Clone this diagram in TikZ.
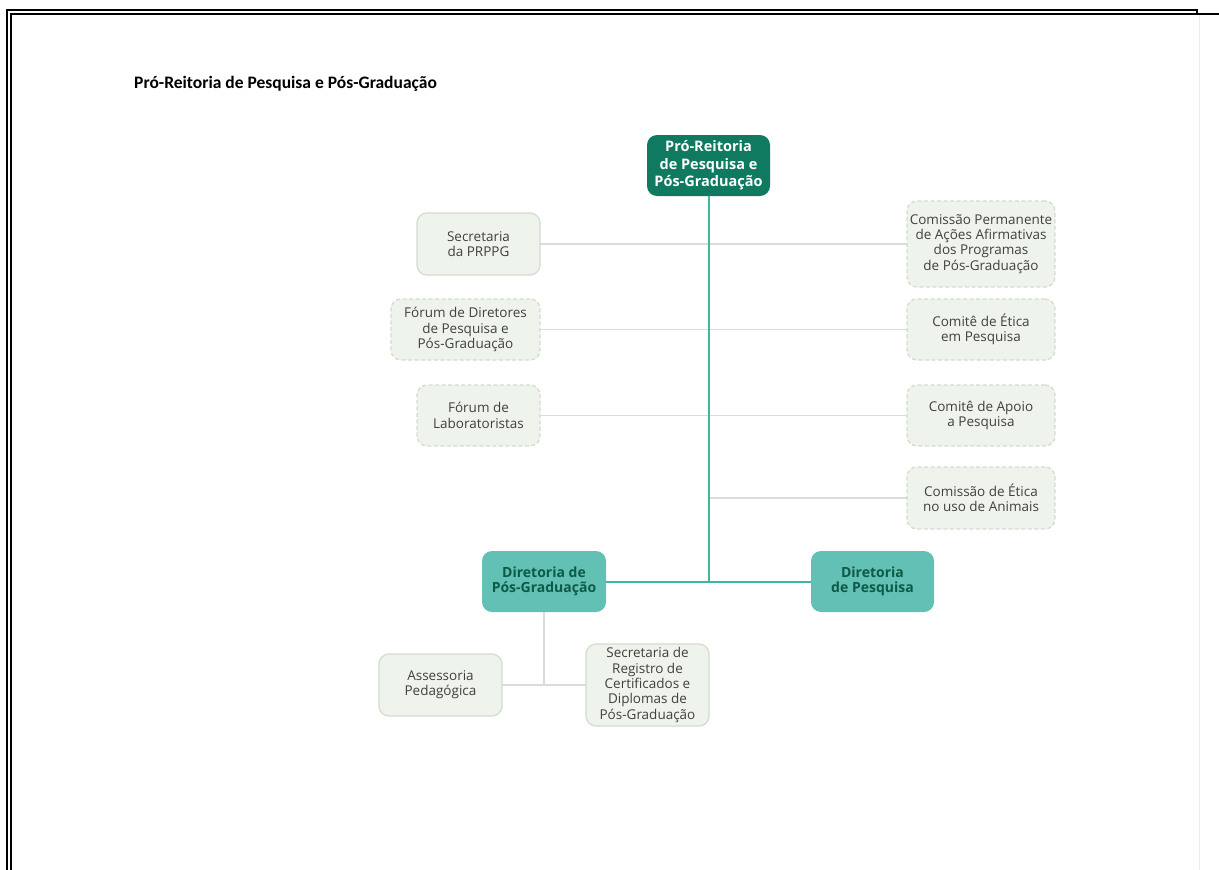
\documentclass[tikz,border=0pt]{standalone}
\usepackage{fontspec}
\setmainfont{Open Sans}
\newfontfamily\titlefont{Carlito}
\definecolor{darkgreen}{HTML}{0F7A60}
\definecolor{tealfill}{HTML}{62C0B5}
\definecolor{tealtext}{HTML}{0D5A47}
\definecolor{tealline}{HTML}{3DB89C}
\definecolor{lightfill}{HTML}{EEF3EB}
\definecolor{lightborder}{HTML}{D3DDD0}
\definecolor{greyline}{HTML}{D9DDD9}
\definecolor{boxtext}{HTML}{404040}
\tikzset{
  base/.style={rounded corners=10pt, align=center, inner sep=0pt, outer sep=0pt,
    font=\fontsize{13.5}{15.3}\selectfont, text=boxtext},
  solidbox/.style={base, draw=lightborder, line width=1.3pt, fill=lightfill},
  dashbox/.style={base, draw=lightborder, line width=1.3pt, dash pattern=on 4pt off 2.5pt, fill=lightfill},
  topbox/.style={base, fill=darkgreen, text=white, font=\fontsize{14.5}{17.5}\selectfont\bfseries},
  dirbox/.style={base, fill=tealfill, text=tealtext, font=\fontsize{14}{15.5}\selectfont\bfseries},
  greyconn/.style={draw=greyline, line width=1.8pt},
  tealconn/.style={draw=tealline, line width=2pt},
  frameline/.style={draw=black, line width=1.1pt}
}
\begin{document}
\begin{tikzpicture}[x=1pt,y=-1pt]
\useasboundingbox[fill=white] (0,0) rectangle (1219,870);
% page frame
\draw[frameline] (7,870) -- (7,10) -- (1197,10) -- (1197,14);
\draw[frameline] (11,870) -- (11,14) -- (1219,14);
\draw[draw=black!8, line width=0.8pt] (1199.5,15) -- (1199.5,870);
% title
\node[anchor=base west, inner sep=0pt, font=\titlefont\fontsize{17.5}{20}\selectfont\bfseries] (title) at (134,88.5) {Pró-Reitoria de Pesquisa e Pós-Graduação};
% boxes
\node[topbox, minimum width=123pt, minimum height=61pt] (top) at (708.5,165.5) {Pró-Reitoria\\de Pesquisa e\\Pós-Graduação};
\node[solidbox, minimum width=123pt, minimum height=62pt] (sec) at (478.5,244) {Secretaria\\da PRPPG};
\node[dashbox, minimum width=148pt, minimum height=86pt] (cpaa) at (981,244) {Comissão Permanente\\de Ações Afirmativas\\dos Programas\\de Pós-Graduação};
\node[dashbox, minimum width=149pt, minimum height=61pt] (fdp) at (465.5,329.5) {Fórum de Diretores\\de Pesquisa e\\Pós-Graduação};
\node[dashbox, minimum width=148pt, minimum height=61pt] (cep) at (981,329.5) {Comitê de Ética\\em Pesquisa};
\node[dashbox, minimum width=123pt, minimum height=61pt] (flab) at (478.5,415.5) {Fórum de\\Laboratoristas};
\node[dashbox, minimum width=148pt, minimum height=61pt] (cap) at (981,415.5) {Comitê de Apoio\\a Pesquisa};
\node[dashbox, minimum width=148pt, minimum height=62pt] (ceua) at (981,498) {Comissão de Ética\\no uso de Animais};
\node[dirbox, minimum width=124pt, minimum height=61pt] (dpg) at (544,581.5) {Diretoria de\\Pós-Graduação};
\node[dirbox, minimum width=123pt, minimum height=61pt] (dp) at (872.5,581.5) {Diretoria\\de Pesquisa};
\node[solidbox, minimum width=123pt, minimum height=62pt] (ap) at (440.5,685) {Assessoria\\Pedagógica};
\node[solidbox, minimum width=123pt, minimum height=82pt] (srcd) at (647.5,685) {Secretaria de\\Registro de\\Certificados e\\Diplomas de\\Pós-Graduação};
% junctions
\coordinate (j) at (top.south |- dpg.east);
\coordinate (jc) at (top.south |- ceua.west);
\coordinate (k) at (dpg.south |- ap.east);
% connectors
\path[greyconn] (sec.east) -- (cpaa.west);
\path[greyconn] (fdp.east) -- (cep.west);
\path[greyconn] (flab.east) -- (cap.west);
\path[greyconn] (jc) -- (ceua.west);
\path[greyconn] (dpg.south) -- (k);
\path[greyconn] (ap.east) -- (srcd.west);
\path[tealconn] (top.south) -- (j);
\path[tealconn] (dpg.east) -- (dp.west);
\end{tikzpicture}
\end{document}
